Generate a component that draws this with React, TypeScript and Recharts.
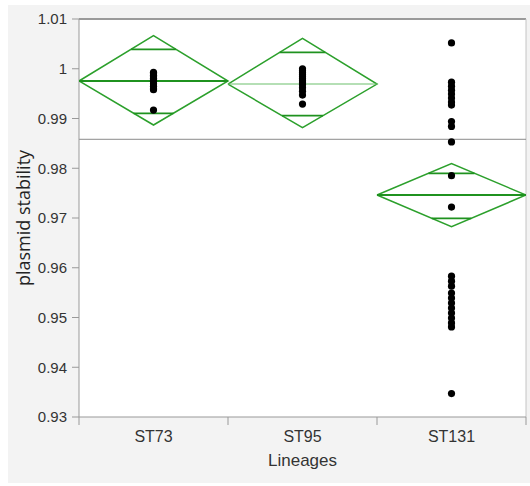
import React from 'react';
import { ComposedChart, XAxis, YAxis, Scatter, ReferenceLine, CartesianGrid } from 'recharts';

const categories = ['ST73', 'ST95', 'ST131'];

const st73Values = [0.9993, 0.999, 0.9987, 0.9984, 0.9981, 0.9978, 0.9975, 0.997, 0.9965, 0.996, 0.9958, 0.9917];
const st95Values = [1.0, 0.9996, 0.9992, 0.9988, 0.9984, 0.998, 0.9976, 0.9972, 0.9968, 0.9962, 0.9955, 0.9947, 0.9929];
const st131Values = [
  1.0052, 0.9973, 0.9965, 0.9957, 0.9949, 0.9941, 0.9933, 0.9927, 0.9894, 0.9884, 0.9853, 0.9785, 0.9722,
  0.9583, 0.9573, 0.9563, 0.9549, 0.9539, 0.9529, 0.9519, 0.9509, 0.9499, 0.9489, 0.9481, 0.9347,
];

const groupMeans = [0.99754, 0.99693, 0.97462];
const ciUpper = [1.00664, 1.00612, 0.98092];
const ciLower = [0.98869, 0.98815, 0.96825];
const overlapUpper = [1.00391, 1.00331, 0.97898];
const overlapLower = [0.99105, 0.99056, 0.96994];
const grandMean = 0.98582;

const yTicks = [0.93, 0.94, 0.95, 0.96, 0.97, 0.98, 0.99, 1.0, 1.01];
const xTicks = [0, 0.5, 1, 1.5, 2, 2.5, 3];

const groupValues = [st73Values, st95Values, st131Values];

const GREEN = '#2ca02c';
const DARK_GREEN = '#1f921f';
const LIGHT_GREEN = '#6cc06c';
const NARROW = '"Liberation Sans Narrow", "Liberation Sans", sans-serif';

const noShape = () => <g />;
const dotShape = (p: any) => <circle cx={p.cx} cy={p.cy} r={3.6} fill="#000" />;

const XTick = (p: any) => {
  const v = p.payload.value as number;
  if (Number.isInteger(v)) {
    return <line x1={p.x} x2={p.x} y1={p.y} y2={p.y + 8} stroke="#999" />;
  }
  return (
    <text
      x={p.x}
      y={p.y + 25}
      textAnchor="middle"
      fill="#333"
      fontSize={16}
      fontFamily={NARROW}
    >
      {categories[Math.floor(v)]}
    </text>
  );
};

export default function App() {
  const diamonds = categories.map((_, i) => [
    { x: i, y: groupMeans[i] },
    { x: i + 0.5, y: ciUpper[i] },
    { x: i + 1, y: groupMeans[i] },
    { x: i + 0.5, y: ciLower[i] },
    { x: i, y: groupMeans[i] },
  ]);
  const meanLines = categories.map((_, i) => [
    { x: i, y: groupMeans[i] },
    { x: i + 1, y: groupMeans[i] },
  ]);
  const overlapMarks = categories.flatMap((_, i) => {
    const wu = (0.5 * (ciUpper[i] - overlapUpper[i])) / (ciUpper[i] - groupMeans[i]);
    const wl = (0.5 * (overlapLower[i] - ciLower[i])) / (groupMeans[i] - ciLower[i]);
    return [
      [
        { x: i + 0.5 - wu, y: overlapUpper[i] },
        { x: i + 0.5 + wu, y: overlapUpper[i] },
      ],
      [
        { x: i + 0.5 - wl, y: overlapLower[i] },
        { x: i + 0.5 + wl, y: overlapLower[i] },
      ],
    ];
  });
  const points = groupValues.map((vals, i) => vals.map((v) => ({ x: i + 0.5, y: v })));

  return (
    <div
      style={{
        position: 'absolute',
        left: 8,
        top: 5,
        width: 522,
        height: 478,
        background: '#f3f3f3',
      }}
    >
      <ComposedChart width={522} height={478} margin={{ top: 14, right: 4, bottom: 0, left: 0 }}>
        <CartesianGrid horizontal={false} vertical={false} fill="#ffffff" stroke="none" />
        <XAxis
          dataKey="x"
          type="number"
          domain={[0, 3]}
          ticks={xTicks}
          allowDataOverflow
          interval={0}
          height={66}
          tickSize={0}
          tickMargin={0}
          tickLine={false}
          stroke="#999"
          tick={<XTick />}
          label={{
            value: 'Lineages',
            position: 'insideBottom',
            offset: 17,
            fill: '#333',
            fontSize: 17,
            fontFamily: NARROW,
          }}
        />
        <YAxis
          dataKey="y"
          type="number"
          domain={[0.93, 1.01]}
          ticks={yTicks}
          allowDataOverflow
          interval={0}
          width={71}
          tickSize={7}
          tickMargin={5}
          stroke="#999"
          tickFormatter={(v: number) => String(Number(v.toFixed(2)))}
          tick={{ fill: '#333', fontSize: 15, fontFamily: NARROW }}
          label={{
            value: 'plasmid stability',
            angle: -90,
            position: 'insideLeft',
            offset: 16,
            fill: '#222',
            fontSize: 18,
            fontFamily: '"Open Sans", sans-serif',
            style: { textAnchor: 'middle' },
          }}
        />
        <ReferenceLine y={1.01} stroke="#9a9a9a" strokeWidth={2} />
        <ReferenceLine x={3} stroke="#c4c4c4" strokeWidth={1} />
        <ReferenceLine y={grandMean} stroke="#8a8a8a" strokeWidth={1} />
        {diamonds.map((d, i) => (
          <Scatter
            key={'d' + i}
            data={d}
            fill="none"
            line={{ stroke: GREEN, strokeWidth: 1.5 }}
            shape={noShape}
            isAnimationActive={false}
          />
        ))}
        {meanLines.map((d, i) => (
          <Scatter
            key={'m' + i}
            data={d}
            fill="none"
            line={{ stroke: i === 1 ? LIGHT_GREEN : DARK_GREEN, strokeWidth: i === 1 ? 1.2 : 2 }}
            shape={noShape}
            isAnimationActive={false}
          />
        ))}
        {overlapMarks.map((d, i) => (
          <Scatter
            key={'o' + i}
            data={d}
            fill="none"
            line={{ stroke: DARK_GREEN, strokeWidth: 1.8 }}
            shape={noShape}
            isAnimationActive={false}
          />
        ))}
        {points.map((d, i) => (
          <Scatter key={'p' + i} data={d} fill="#000" shape={dotShape} isAnimationActive={false} />
        ))}
      </ComposedChart>
    </div>
  );
}
